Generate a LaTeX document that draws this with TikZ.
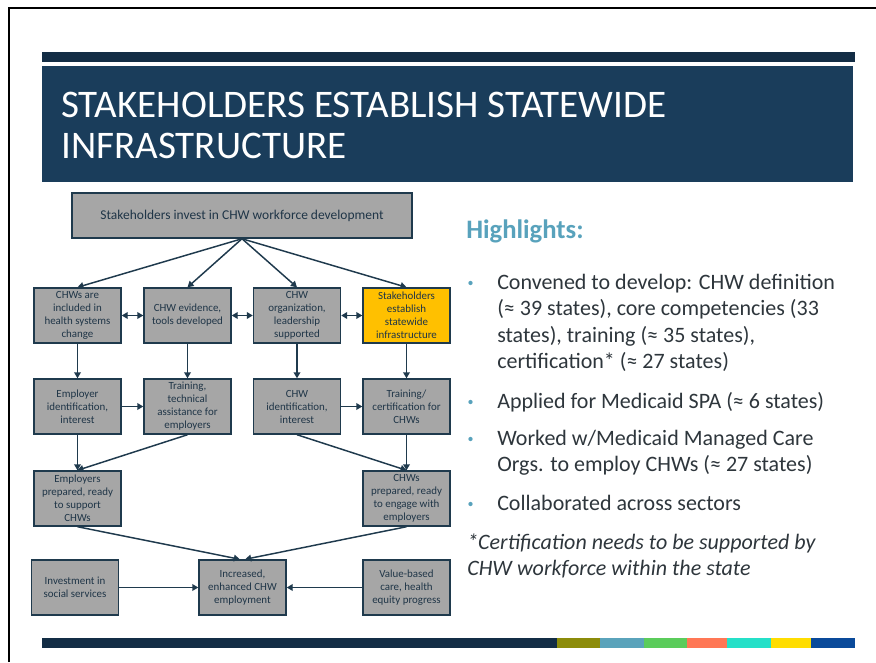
\documentclass[tikz,border=0pt]{standalone}
\usepackage{fontspec}
\setmainfont{Carlito}
\usetikzlibrary{arrows.meta}
\definecolor{topbar}{HTML}{132D45}
\definecolor{band}{HTML}{1A3D5B}
\definecolor{boxgray}{HTML}{A6A6A6}
\definecolor{boxyellow}{HTML}{FFC000}
\definecolor{edge}{HTML}{1F3A4D}
\definecolor{boxtext}{HTML}{1F3547}
\definecolor{hl}{HTML}{58A2BC}
\definecolor{bodytext}{HTML}{2E363C}
\definecolor{cOlive}{HTML}{8C8C0A}
\definecolor{cTeal}{HTML}{5AA3BB}
\definecolor{cGreen}{HTML}{5BCC5B}
\definecolor{cCoral}{HTML}{FF7755}
\definecolor{cTurq}{HTML}{25E0C8}
\definecolor{cYellow}{HTML}{FFDD00}
\definecolor{cBlue}{HTML}{0A4A9A}
\tikzset{
  flowbox/.style={draw=edge, fill=boxgray, line width=1.1pt, text=boxtext,
    minimum width=65.25pt, minimum height=41.25pt, inner sep=1pt, align=center,
    font=\fontsize{8.2}{9.75}\selectfont},
  conn/.style={draw=edge, line width=1.1pt, -{Triangle[length=4.5pt,width=5pt]}},
  dconn/.style={draw=edge, line width=1.1pt, {Triangle[length=4.5pt,width=5pt]}-{Triangle[length=4.5pt,width=5pt]}},
  bodyline/.style={anchor=base west, text=bodytext, inner sep=0pt, font=\fontsize{16.5}{19.8}\selectfont},
  bulletdot/.style={circle, fill=hl, inner sep=0pt, minimum size=3.2pt},
  titleline/.style={anchor=base west, inner sep=0pt, text=white, font=\fontsize{29.3}{35}\selectfont}
}
\begin{document}
\begin{tikzpicture}[x=0.75pt,y=-0.75pt]
\useasboundingbox (0,0) rectangle (876,662);
\fill[white] (0,0) rectangle (876,662);
% slide frame
\draw[black, line width=1.5pt] (8.5,662) -- (8.5,8) -- (876,8);
% header
\fill[topbar] (42,52) rectangle (855,62);
\fill[band] (42,66) rectangle (853,182);
\node[titleline] (t1) at (61,117) {STAKEHOLDERS ESTABLISH STATEWIDE};
\node[titleline] (t2) at (61,158) {INFRASTRUCTURE};
% footer bar
\fill[topbar] (42,638) rectangle (557,648);
\fill[cOlive] (557,638) rectangle (600,648);
\fill[cTeal] (600,638) rectangle (644,648);
\fill[cGreen] (644,638) rectangle (687,648);
\fill[cCoral] (687,638) rectangle (727,648);
\fill[cTurq] (727,638) rectangle (771,648);
\fill[cYellow] (771,638) rectangle (811,648);
\fill[cBlue] (811,638) rectangle (855,648);
% diagram
\node[flowbox, minimum width=255pt, minimum height=33.75pt, font=\fontsize{10.1}{12}\selectfont] (top) at (242,215.5) {Stakeholders invest in CHW workforce development};
\node[flowbox] (a1) at (77.5,315.5) {CHWs are\\included in\\health systems\\change};
\node[flowbox] (b1) at (187.5,315.5) {CHW evidence,\\tools developed};
\node[flowbox] (c1) at (297,315.5) {CHW\\organization,\\leadership\\supported};
\node[flowbox, fill=boxyellow] (d1) at (406.5,315.5) {Stakeholders\\establish\\statewide\\infrastructure};
\node[flowbox] (a2) at (77.5,406.5) {Employer\\identification,\\interest};
\node[flowbox] (b2) at (187.5,406.5) {Training,\\technical\\assistance for\\employers};
\node[flowbox] (c2) at (297,406.5) {CHW\\identification,\\interest};
\node[flowbox] (d2) at (406.5,406.5) {Training/\\certification for\\CHWs};
\node[flowbox] (a3) at (77.5,498.5) {Employers\\prepared, ready\\to support\\CHWs};
\node[flowbox] (d3) at (406.5,498.5) {CHWs\\prepared, ready\\to engage with\\employers};
\node[flowbox] (inv) at (75,587.5) {Investment in\\social services};
\node[flowbox] (inc) at (242.5,587.5) {Increased,\\enhanced CHW\\employment};
\node[flowbox] (val) at (406.5,587.5) {Value-based\\care, health\\equity progress};
% connectors
\draw[conn] (top.south) -- (a1.north);
\draw[conn] (top.south) -- (b1.north);
\draw[conn] (top.south) -- (c1.north);
\draw[conn] (top.south) -- (d1.north);
\draw[dconn] (a1.east) -- (b1.west);
\draw[dconn] (b1.east) -- (c1.west);
\draw[dconn] (c1.east) -- (d1.west);
\draw[conn] (a1.south) -- (a2.north);
\draw[conn] (b1.south) -- (b2.north);
\draw[conn] (c1.south) -- (c2.north);
\draw[conn] (d1.south) -- (d2.north);
\draw[conn] (a2.east) -- (b2.west);
\draw[conn] (c2.east) -- (d2.west);
\draw[conn] (a2.south) -- (a3.north);
\draw[conn] (b2.south) -- (a3.north);
\draw[conn] (c2.south) -- (d3.north);
\draw[conn] (d2.south) -- (d3.north);
\draw[conn] (a3.south) -- ([xshift=-2pt]inc.north);
\draw[conn] (d3.south) -- ([xshift=2pt]inc.north);
\draw[conn] (inv.east) -- (inc.west);
\draw[conn] (val.west) -- (inc.east);
% highlights
\node[anchor=base west, inner sep=0pt, text=hl, font=\bfseries\fontsize{20}{24}\selectfont] (hd) at (466,238) {Highlights:};
\node[bulletdot] (bu1) at (470.5,283) {};
\node[bodyline] (l1) at (497,289) {Convened to develop: CHW definition};
\node[bodyline] (l2) at (497,315.5) {(≈ 39 states), core competencies (33};
\node[bodyline] (l3) at (497,342) {states), training (≈ 35 states),};
\node[bodyline] (l4) at (497,368.5) {certification* (≈ 27 states)};
\node[bulletdot] (bu2) at (470.5,402) {};
\node[bodyline] (l5) at (497,408) {Applied for Medicaid SPA (≈ 6 states)};
\node[bulletdot] (bu3) at (470.5,439) {};
\node[bodyline] (l6) at (497,445) {Worked w/Medicaid Managed Care};
\node[bodyline] (l7) at (497,471.5) {Orgs. to employ CHWs (≈ 27 states)};
\node[bulletdot] (bu4) at (470.5,504) {};
\node[bodyline] (l8) at (497,510) {Collaborated across sectors};
\node[bodyline, font=\itshape\fontsize{16.5}{19.8}\selectfont] (n1) at (467,549) {*Certification needs to be supported by};
\node[bodyline, font=\itshape\fontsize{16.5}{19.8}\selectfont] (n2) at (467,575.5) {CHW workforce within the state};
\end{tikzpicture}
\end{document}
